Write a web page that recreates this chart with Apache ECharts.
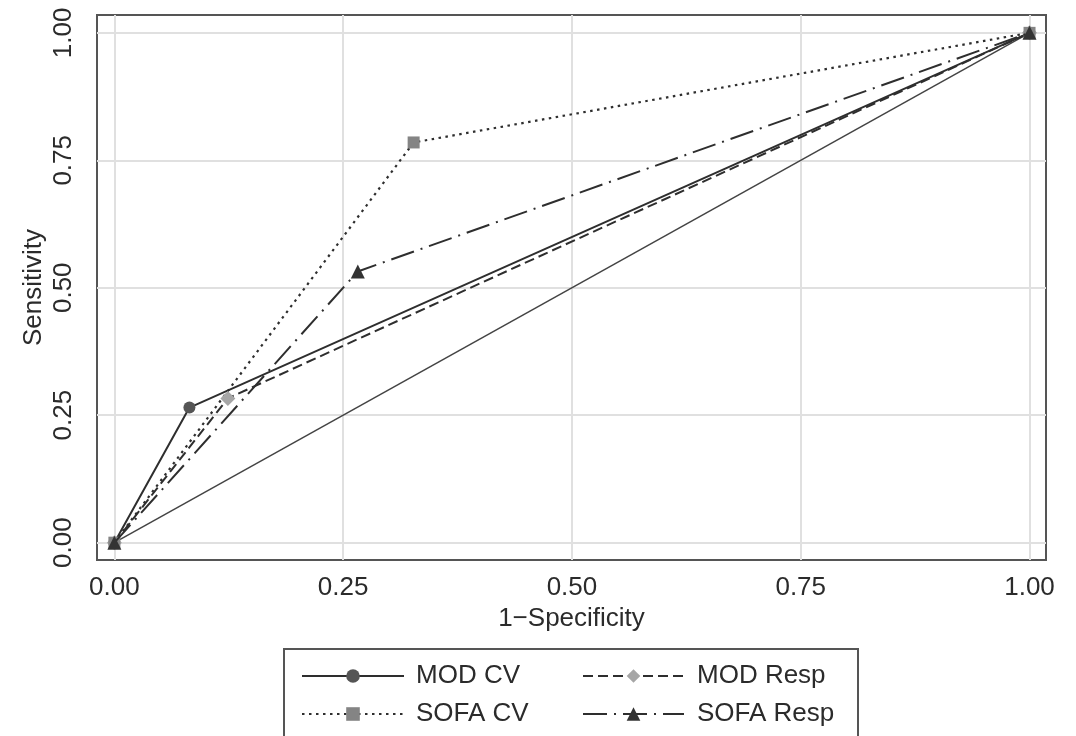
<!DOCTYPE html>
<html>
<head>
<meta charset="utf-8">
<title>ROC curves</title>
<script src="https://cdn.jsdelivr.net/npm/echarts@6/dist/echarts.min.js"></script>
<style>
  html, body { margin: 0; padding: 0; background: #fff; }
  #chart { width: 1076px; height: 736px; }
</style>
</head>
<body>
<div id="chart"></div>
<script>
// ROC curve coordinates (1-specificity, sensitivity) for each score
const modCvX = [0, 0.082, 1];
const modCvY = [0, 0.265, 1];
const modRespX = [0, 0.124, 1];
const modRespY = [0, 0.283, 1];
const sofaCvX = [0, 0.327, 1];
const sofaCvY = [0, 0.785, 1];
const sofaRespX = [0, 0.266, 1];
const sofaRespY = [0, 0.532, 1];
// chance diagonal
const refX = [0, 1];
const refY = [0, 1];

const tickValues = [0, 0.25, 0.5, 0.75, 1];
const seriesNames = ['MOD CV', 'MOD Resp', 'SOFA CV', 'SOFA Resp'];

const FONT = '"Liberation Sans", Arial, Helvetica, sans-serif';
const TEXT = '#2b2b2b';
const LINE = '#2e2e2e';

const pairs = (xs, ys) => xs.map((x, i) => [x, ys[i]]);

const chart = echarts.init(document.getElementById('chart'), null, { renderer: 'canvas' });

chart.setOption({
  animation: false,
  backgroundColor: '#fff',
  textStyle: { fontFamily: FONT },
  grid: {
    left: 97, right: 30, top: 15, bottom: 176,
    show: true, borderColor: '#555', borderWidth: 2, backgroundColor: '#fff',
    containLabel: false
  },
  xAxis: {
    type: 'value',
    min: -0.019, max: 1.018,
    name: '1\u2212Specificity',
    nameLocation: 'middle',
    nameGap: 46,
    nameMoveOverlap: false,
    nameTextStyle: { fontSize: 26, color: TEXT, fontFamily: FONT },
    axisLine: { show: false },
    axisTick: { show: true, length: 10, customValues: tickValues, lineStyle: { color: '#444', width: 1.5 } },
    axisLabel: {
      customValues: tickValues, fontSize: 26, color: TEXT, margin: 15, fontFamily: FONT,
      formatter: v => v.toFixed(2)
    },
    splitLine: { show: false }
  },
  yAxis: {
    type: 'value',
    min: -0.034, max: 1.035,
    name: 'Sensitivity',
    nameLocation: 'middle',
    nameGap: 50,
    nameMoveOverlap: false,
    nameTextStyle: { fontSize: 26, color: TEXT, fontFamily: FONT },
    axisLine: { show: false },
    axisTick: { show: true, length: 10, customValues: tickValues, lineStyle: { color: '#444', width: 1.5 } },
    axisLabel: {
      customValues: tickValues, fontSize: 26, color: TEXT, margin: 20, rotate: 90, fontFamily: FONT,
      formatter: v => v.toFixed(2)
    },
    splitLine: { show: false }
  },
  legend: [
    {
      data: [seriesNames[0], seriesNames[2]],
      orient: 'vertical', left: 296, top: 658,
      itemWidth: 102, itemHeight: 17, itemGap: 12,
      selectedMode: false,
      textStyle: { fontSize: 26, color: TEXT, fontFamily: FONT, padding: [0, 0, 0, 7] }
    },
    {
      data: [seriesNames[1], seriesNames[3]],
      orient: 'vertical', left: 577, top: 658,
      itemWidth: 101, itemHeight: 17, itemGap: 12,
      selectedMode: false,
      textStyle: { fontSize: 26, color: TEXT, fontFamily: FONT, padding: [0, 0, 0, 8] }
    }
  ],
  graphic: [
    {
      type: 'rect', z: 0,
      shape: { x: 284, y: 649, width: 574, height: 120 },
      style: { fill: 'none', stroke: '#555', lineWidth: 2 }
    }
  ],
  series: [
    {
      name: 'Reference', type: 'line', data: pairs(refX, refY),
      showSymbol: false, symbol: 'none', silent: true, z: 2,
      lineStyle: { color: '#444', width: 1.5 },
      markLine: {
        silent: true, symbol: 'none', label: { show: false }, z: 1,
        lineStyle: { color: '#e0e0e0', width: 2, type: 'solid' },
        data: tickValues.map(v => ({ xAxis: v })).concat(tickValues.map(v => ({ yAxis: v })))
      }
    },
    {
      name: seriesNames[0], type: 'line', data: pairs(modCvX, modCvY), z: 3,
      symbol: 'circle', symbolSize: 12,
      itemStyle: { color: '#555' },
      lineStyle: { color: LINE, width: 2, type: 'solid' }
    },
    {
      name: seriesNames[1], type: 'line', data: pairs(modRespX, modRespY), z: 3,
      symbol: 'diamond', symbolSize: 15,
      itemStyle: { color: '#a6a6a6' },
      lineStyle: { color: LINE, width: 2, type: [10, 5] }
    },
    {
      name: seriesNames[2], type: 'line', data: pairs(sofaCvX, sofaCvY), z: 3,
      symbol: 'rect', symbolSize: 12,
      itemStyle: { color: '#848484' },
      lineStyle: { color: LINE, width: 2.2, type: [2.5, 4.5] }
    },
    {
      name: seriesNames[3], type: 'line', data: pairs(sofaRespX, sofaRespY), z: 4,
      symbol: 'triangle', symbolSize: 14,
      itemStyle: { color: '#333' },
      lineStyle: { color: LINE, width: 2, type: [24, 7, 2, 7] }
    }
  ]
});
</script>
</body>
</html>
